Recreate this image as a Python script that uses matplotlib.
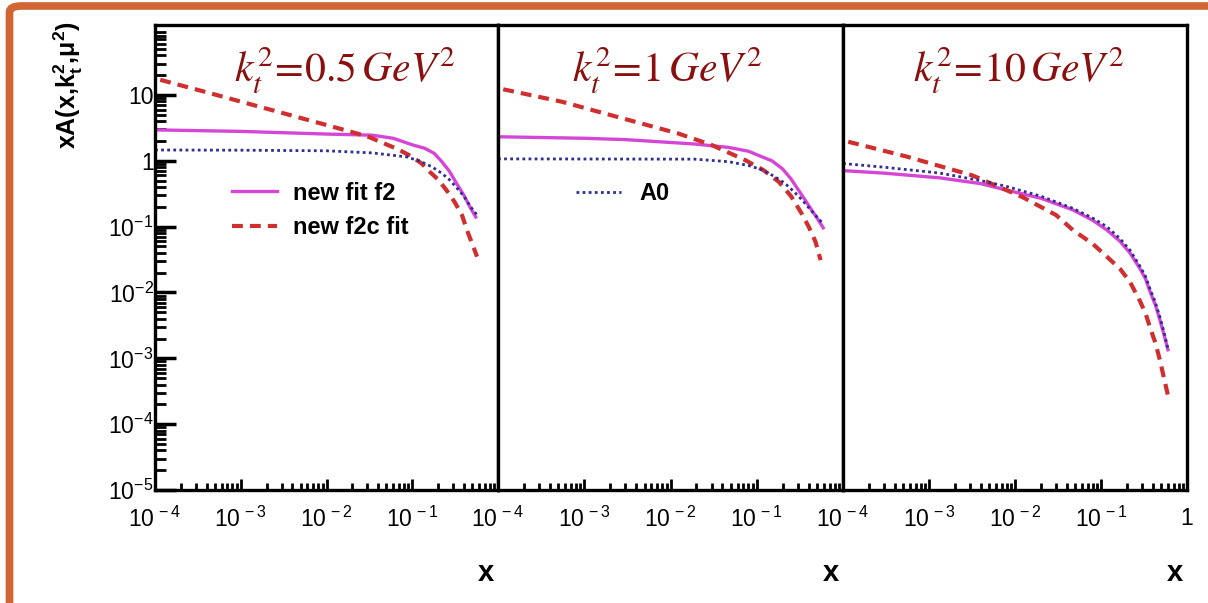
import matplotlib
matplotlib.use("Agg")
import matplotlib.pyplot as plt
from matplotlib.patches import FancyBboxPatch
from matplotlib.ticker import LogLocator, FixedLocator, FixedFormatter, NullFormatter

plt.rcParams['font.family'] = ['Liberation Sans', 'DejaVu Sans']
plt.rcParams['mathtext.fontset'] = 'custom'
plt.rcParams['mathtext.rm'] = 'Liberation Sans'
plt.rcParams['mathtext.it'] = 'Liberation Sans:italic'
plt.rcParams['mathtext.bf'] = 'Liberation Sans:bold'

# ---------------- data ----------------
panel_titles = [r'$k_t^2\!=\!0.5\,GeV^2$', r'$k_t^2\!=\!1\,GeV^2$', r'$k_t^2\!=\!10\,GeV^2$']

# panel 1 : kt^2 = 0.5 GeV^2
p1_f2_x = [1e-4, 1e-3, 1e-2, 0.034, 0.06, 0.1, 0.14, 0.18, 0.22, 0.27, 0.33, 0.4, 0.48, 0.55]
p1_f2_y = [2.95, 2.8, 2.55, 2.45, 2.2, 1.75, 1.55, 1.3, 0.98, 0.7, 0.45, 0.3, 0.19, 0.14]
p1_f2c_x = [1.15e-4, 4e-4, 2.3e-3, 0.014, 0.03, 0.068, 0.1, 0.13, 0.16, 0.2, 0.25, 0.31, 0.38, 0.44, 0.5, 0.57]
p1_f2c_y = [17, 11, 5.9, 3.1, 2.35, 1.5, 1.15, 0.9, 0.68, 0.52, 0.36, 0.24, 0.15, 0.085, 0.055, 0.035]
p1_a0_x = [1e-4, 1e-3, 1e-2, 0.034, 0.085, 0.12, 0.17, 0.22, 0.27, 0.33, 0.4, 0.48, 0.57]
p1_a0_y = [1.46, 1.45, 1.42, 1.32, 1.15, 1.0, 0.81, 0.65, 0.52, 0.39, 0.29, 0.2, 0.15]

# panel 2 : kt^2 = 1 GeV^2
p2_f2_x = [1e-4, 1e-3, 3e-3, 0.019, 0.047, 0.08, 0.115, 0.15, 0.2, 0.25, 0.3, 0.36, 0.42, 0.5, 0.59]
p2_f2_y = [2.32, 2.2, 2.1, 1.8, 1.6, 1.4, 1.15, 1.0, 0.75, 0.53, 0.37, 0.26, 0.19, 0.135, 0.096]
p2_f2c_x = [1.15e-4, 5.5e-4, 3.2e-3, 0.0123, 0.03, 0.074, 0.12, 0.18, 0.25, 0.33, 0.4, 0.48, 0.55]
p2_f2c_y = [12.2, 7.9, 4.2, 2.6, 1.74, 1.02, 0.72, 0.48, 0.29, 0.16, 0.1, 0.059, 0.031]
p2_a0_x = [1e-4, 0.019, 0.047, 0.08, 0.115, 0.16, 0.21, 0.27, 0.34, 0.42, 0.5, 0.59]
p2_a0_y = [1.07, 1.06, 0.97, 0.85, 0.73, 0.58, 0.46, 0.34, 0.25, 0.18, 0.14, 0.11]

# panel 3 : kt^2 = 10 GeV^2
p3_f2_x = [1e-4, 3e-4, 1.35e-3, 4e-3, 7.9e-3, 0.02, 0.047, 0.08, 0.117, 0.166, 0.217,
           0.284, 0.33, 0.37, 0.43, 0.485, 0.54, 0.6]
p3_f2_y = [0.71, 0.65, 0.55, 0.45, 0.36, 0.27, 0.18, 0.125, 0.089, 0.06, 0.04,
           0.023, 0.016, 0.0105, 0.0064, 0.0038, 0.0023, 0.00135]
p3_f2c_x = [1.15e-4, 5.5e-4, 3.2e-3, 0.0123, 0.03, 0.047, 0.08, 0.117, 0.166, 0.217,
            0.284, 0.33, 0.37, 0.43, 0.485, 0.54, 0.6]
p3_f2c_y = [1.95, 1.16, 0.6, 0.28, 0.15, 0.089, 0.055, 0.035, 0.023, 0.0145,
            0.0074, 0.0048, 0.003, 0.0017, 9.3e-4, 5e-4, 2.75e-4]
p3_a0_x = [1e-4, 3e-4, 1.35e-3, 4e-3, 7.9e-3, 0.02, 0.047, 0.08, 0.117, 0.166, 0.217,
           0.284, 0.33, 0.37, 0.43, 0.485, 0.54, 0.6]
p3_a0_y = [0.91, 0.8, 0.65, 0.5, 0.41, 0.29, 0.19, 0.135, 0.10, 0.066, 0.044,
           0.025, 0.0175, 0.0115, 0.007, 0.0042, 0.0025, 0.0014]

panels = [
    (p1_f2_x, p1_f2_y, p1_f2c_x, p1_f2c_y, p1_a0_x, p1_a0_y),
    (p2_f2_x, p2_f2_y, p2_f2c_x, p2_f2c_y, p2_a0_x, p2_a0_y),
    (p3_f2_x, p3_f2_y, p3_f2c_x, p3_f2c_y, p3_a0_x, p3_a0_y),
]

series_labels = ['new fit f2', 'new f2c fit', 'A0']
x_ticks = [1e-4, 1e-3, 1e-2, 1e-1, 1]
x_ticklabels_12 = [r'$10^{\,-4}$', r'$10^{\,-3}$', r'$10^{\,-2}$', r'$10^{\,-1}$', '']
x_ticklabels_3 = [r'$10^{\,-4}$', r'$10^{\,-3}$', r'$10^{\,-2}$', r'$10^{\,-1}$', '1']
y_ticks = [1e-5, 1e-4, 1e-3, 1e-2, 1e-1, 1, 10]
y_ticklabels = [r'$10^{-5}$', r'$10^{-4}$', r'$10^{-3}$', r'$10^{-2}$', r'$10^{-1}$', '1', '10']

# ---------------- style ----------------
C_F2 = '#d646d6'
C_F2C = '#cf2f2f'
C_A0 = '#2d2d96'
C_TITLE = '#8a1010'
C_FRAME = '#cf6633'

W, H = 1208, 603
fig = plt.figure(figsize=(W / 100, H / 100), dpi=100)
fig.patch.set_facecolor('white')

# orange slide frame
frame = FancyBboxPatch((9.5 / W, -20 / H), (W + 40) / W, (H + 14) / H,
                       boxstyle='round,pad=0,rounding_size=0.01',
                       transform=fig.transFigure, fill=False,
                       edgecolor=C_FRAME, linewidth=5.5, zorder=0)
fig.patches.append(frame)

px = [(155, 498), (498, 843), (843, 1187)]
top, bot = 25, 490
ymin, ymax = 1e-5, 10 ** 2.063

for i, (x0, x1) in enumerate(px):
    ax = fig.add_axes([x0 / W, 1 - bot / H, (x1 - x0) / W, (bot - top) / H])
    f2x, f2y, f2cx, f2cy, a0x, a0y = panels[i]
    l1, = ax.plot(f2x, f2y, color=C_F2, lw=2.4, solid_joinstyle='round')
    l2, = ax.plot(f2cx, f2cy, color=C_F2C, lw=3.0, linestyle=(0, (2.6, 1.7)))
    l3, = ax.plot(a0x, a0y, color=C_A0, lw=2.0, linestyle=(0, (1, 1.2)))
    ax.set_xscale('log')
    ax.set_yscale('log')
    ax.set_xlim(1e-4, 1)
    ax.set_ylim(ymin, ymax)
    for s in ax.spines.values():
        s.set_linewidth(2.4)
        s.set_color('black')

    ax.xaxis.set_major_locator(FixedLocator(x_ticks))
    ax.xaxis.set_major_formatter(FixedFormatter(x_ticklabels_3 if i == 2 else x_ticklabels_12))
    ax.xaxis.set_minor_locator(LogLocator(base=10, subs=range(2, 10), numticks=20))
    ax.xaxis.set_minor_formatter(NullFormatter())
    ax.tick_params(axis='x', which='major', direction='in', length=8, width=2,
                   labelsize=16.5, pad=12, top=False)
    ax.tick_params(axis='x', which='minor', direction='in', length=5, width=2, top=False)

    if i == 0:
        ax.yaxis.set_major_locator(FixedLocator(y_ticks))
        ax.yaxis.set_major_formatter(FixedFormatter(y_ticklabels))
        ax.yaxis.set_minor_locator(LogLocator(base=10, subs=range(2, 10), numticks=20))
        ax.yaxis.set_minor_formatter(NullFormatter())
        ax.tick_params(axis='y', which='major', direction='in', length=15, width=2.5,
                       labelsize=16.5, pad=1, right=False)
        ax.tick_params(axis='y', which='minor', direction='in', length=8, width=2, right=False)
    else:
        ax.tick_params(axis='y', which='both', left=False, right=False,
                       labelleft=False)

    ax.set_xlabel('x', loc='right', fontsize=21, fontweight='bold')
    ax.xaxis.set_label_coords(1.0 - 4 / (x1 - x0), -(573 - bot) / (bot - top))
    ax.xaxis.label.set_va('center')

    cx = [345, 667, 1019][i]
    fig.text(cx / W, 1 - 83 / H, panel_titles[i], color=C_TITLE, fontsize=30,
             ha='center', va='baseline', math_fontfamily='stix')

    if i == 0:
        ax.legend([l1, l2], series_labels[:2], loc='center left',
                  bbox_to_anchor=((232 - x0) / (x1 - x0), (bot - 210.5) / (bot - top)),
                  frameon=False, borderpad=0, borderaxespad=0, handlelength=1.9,
                  handletextpad=0.7, labelspacing=0.5,
                  prop={'weight': 'bold', 'size': 17})
    if i == 1:
        ax.legend([l3], [series_labels[2]], loc='center left',
                  bbox_to_anchor=((576 - x0) / (x1 - x0), (bot - 194) / (bot - top)),
                  frameon=False, borderpad=0, borderaxespad=0, handlelength=1.9,
                  handletextpad=0.8, prop={'weight': 'bold', 'size': 17})

fig.text(68 / W, 1 - 85 / H, r'$\mathbf{xA(x{,}k_t^2{,}\mu^2)}$', rotation=90,
         fontsize=18, ha='center', va='center')

fig.savefig('out.png', dpi=100, facecolor='white')
